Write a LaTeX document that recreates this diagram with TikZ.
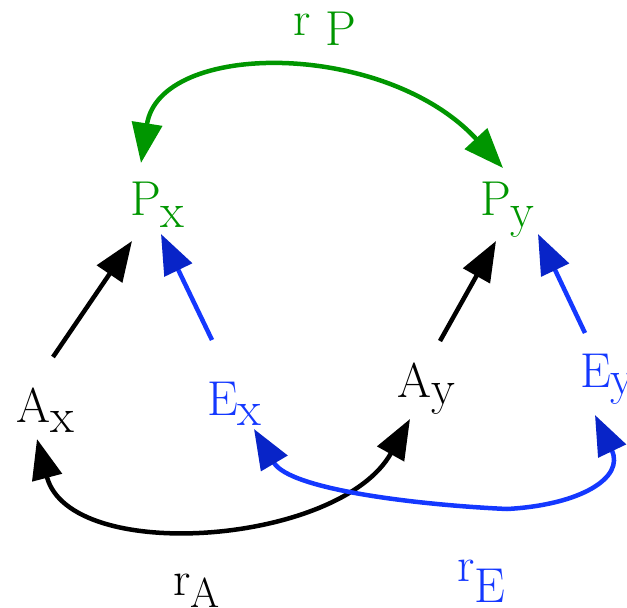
\documentclass[tikz,border=0pt]{standalone}
\usepackage{mathptmx}
\usetikzlibrary{arrows.meta}

\definecolor{figgreen}{RGB}{0,150,0}
\definecolor{figblue}{RGB}{20,56,255}
\definecolor{figbluehead}{RGB}{8,36,200}
\newcommand{\lowsub}[2][10pt]{\raisebox{-#1}{#2}}

\tikzset{
  lbl/.style={anchor=base west, inner sep=0pt, font=\rmfamily\fontsize{49}{58}\selectfont},
  link/.style={line width=4.5pt},
  bigtip/.tip={Triangle[length=40pt, width=30pt]},
  bluetip/.tip={Triangle[length=40pt, width=30pt, color=figbluehead]},
}

\begin{document}
\begin{tikzpicture}[x=1pt, y=-1pt]
\useasboundingbox (0,0) rectangle (627,608);

% labels
\node[lbl, figgreen] (rP) at (293,35) {r \lowsub{P}};
\node[lbl, figgreen] (Px) at (130,215) {P\lowsub[12pt]{x}};
\node[lbl, figgreen] (Py) at (480,215) {P\lowsub[12pt]{y}};
\node[lbl] (Ax) at (16,422) {A\lowsub{x}};
\node[lbl, figblue] (Ex) at (207,415) {E\lowsub{x}};
\node[lbl] (Ay) at (397,397) {A\lowsub[7pt]{y}};
\node[lbl, figblue] (Ey) at (580,387) {E\lowsub[7pt]{y}};
\node[lbl] (rA) at (173,595) {r\lowsub[12pt]{\fontsize{42}{50}\selectfont A}};
\node[lbl, figblue] (rE) at (457,581) {r\lowsub[21pt]{E}};

% connector ends
\coordinate (Px-top) at (141,163);
\coordinate (Py-top) at (503,168);
\coordinate (Px-inA) at (132,241);
\coordinate (Px-inE) at (161,234);
\coordinate (Py-inA) at (496,241);
\coordinate (Py-inE) at (538,234);
\coordinate (Ax-up) at (53,357);
\coordinate (Ex-up) at (212,340);
\coordinate (Ay-up) at (440,341);
\coordinate (Ey-up) at (585,333);
\coordinate (Ax-bot) at (37,439);
\coordinate (Ay-bot) at (410,419);
\coordinate (Ex-bot) at (254,429);
\coordinate (Ey-bot) at (595,415);
\coordinate (rE-kink) at (507,509);

% rates
\draw[link, figgreen, bigtip-bigtip] (Px-top) .. controls (160,40) and (385,40) .. (Py-top);
\draw[link, bigtip-bigtip] (Ax-bot) .. controls (70,565) and (340,545) .. (Ay-bot);
\draw[link, figblue, bluetip-bluetip] (Ex-bot) .. controls (290,490) and (420,505) .. (rE-kink)
  .. controls (580,505) and (625,478) .. (Ey-bot);

% feeds
\draw[link, -bigtip] (Ax-up) -- (Px-inA);
\draw[link, figblue, -bluetip] (Ex-up) -- (Px-inE);
\draw[link, -bigtip] (Ay-up) -- (Py-inA);
\draw[link, figblue, -bluetip] (Ey-up) -- (Py-inE);
\end{tikzpicture}
\end{document}
